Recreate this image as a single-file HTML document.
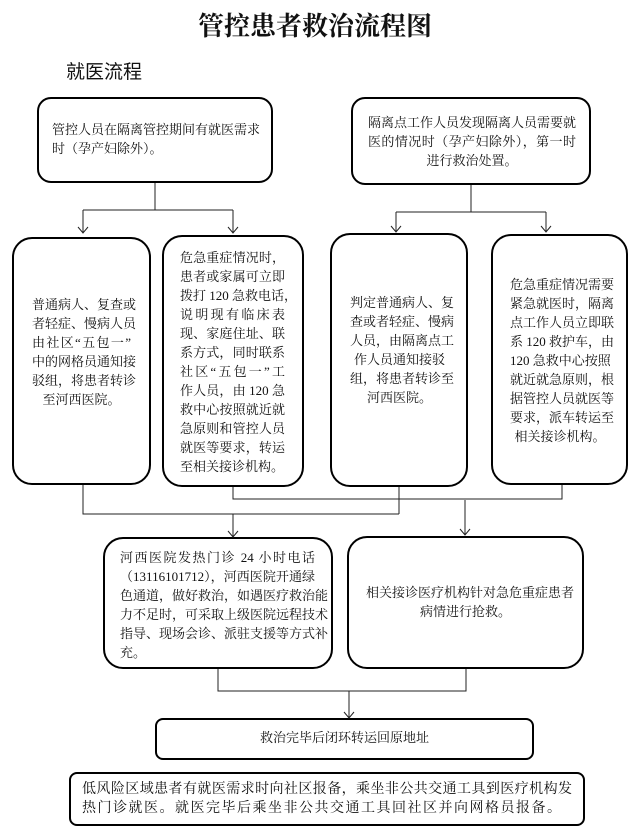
<!DOCTYPE html>
<html><head><meta charset="utf-8">
<style>
body{margin:0;background:#fff;}
#c{position:relative;width:644px;height:830px;overflow:hidden;font-family:"Liberation Serif","Noto Serif CJK SC",serif;color:#111;}
.b{position:absolute;border:2px solid #000;border-radius:14px;box-sizing:border-box;}
.t{position:absolute;font-size:13px;line-height:19px;}
.t div{text-align:justify;text-align-last:justify;height:19px;white-space:nowrap;}
.t div.e{text-align:left;text-align-last:left;}
.t div.m{text-align:center;text-align-last:center;}
svg{position:absolute;left:0;top:0;}
</style></head><body><div id="c">
<div style="position:absolute;left:198px;top:6px;width:240px;font-size:26px;font-weight:bold;letter-spacing:0px;white-space:nowrap;">管控患者救治流程图</div>
<div style="position:absolute;left:66px;top:57px;font-size:19px;white-space:nowrap;font-family:'Liberation Sans','Noto Sans CJK SC',sans-serif;">就医流程</div>

<div class="b" style="left:37px;top:97px;width:236px;height:86px;"></div>
<div class="b" style="left:351px;top:97px;width:240px;height:88px;"></div>
<div class="b" style="left:12px;top:237px;width:139px;height:248px;border-radius:20px;"></div>
<div class="b" style="left:162px;top:235px;width:142px;height:252px;border-radius:20px;"></div>
<div class="b" style="left:330px;top:233px;width:138px;height:254px;border-radius:20px;"></div>
<div class="b" style="left:491px;top:234px;width:137px;height:251px;border-radius:20px;"></div>
<div class="b" style="left:103px;top:537px;width:230px;height:132px;border-radius:20px;"></div>
<div class="b" style="left:347px;top:536px;width:237px;height:133px;border-radius:20px;"></div>
<div class="b" style="left:155px;top:718px;width:379px;height:42px;border-radius:8px;"></div>
<div class="b" style="left:69px;top:772px;width:516px;height:54px;border-radius:8px;"></div>

<svg width="644" height="830" fill="none" stroke="#222" stroke-width="1">
<path d="M155 183V210M83 210H233M83 210V233M233 210V233"/>
<path d="M78 227L83 233L88 227M228 227L233 233L238 227"/>
<path d="M471 185V212M396 212H546M396 212V232M546 212V232"/>
<path d="M391 226L396 232L401 226M541 226L546 232L551 226"/>
<path d="M83 485V514H399M399 487V514M233 487V499H562V485M233 514V537M465 500V535"/>
<path d="M228 531L233 537L238 531M460 529L465 535L470 529"/>
<path d="M218 669V691H466V669M349 691V718"/>
<path d="M344 712L349 718L354 712"/>
</svg>

<div class="t" style="left:52px;top:120px;width:208px;"><div>管控人员在隔离管控期间有就医需求</div><div class="e">时（孕产妇除外）。</div></div>
<div class="t" style="left:368px;top:113px;width:208px;"><div>隔离点工作人员发现隔离人员需要就</div><div>医的情况时（孕产妇除外），第一时</div><div class="m">进行救治处置。</div></div>

<div class="t" style="left:32px;top:295px;width:99px;"><div>普通病人、复查或</div><div>者轻症、慢病人员</div><div>由社区“五包一”</div><div>中的网格员通知接</div><div>驳组，将患者转诊</div><div class="m">至河西医院。</div></div>
<div class="t" style="left:180px;top:248px;width:105px;"><div>危急重症情况时，</div><div>患者或家属可立即</div><div>拨打 120 急救电话，</div><div>说明现有临床表</div><div>现、家庭住址、联</div><div>系方式，同时联系</div><div>社区“五包一”工</div><div>作人员，由 120 急</div><div>救中心按照就近就</div><div>急原则和管控人员</div><div>就医等要求，转运</div><div class="e">至相关接诊机构。</div></div>
<div class="t" style="left:350px;top:293px;width:99px;"><div>判定普通病人、复</div><div>查或者轻症、慢病</div><div>人员，由隔离点工</div><div class="m">作人员通知接驳</div><div>组，将患者转诊至</div><div class="m">河西医院。</div></div>
<div class="t" style="left:510px;top:275px;width:100px;"><div>危急重症情况需要</div><div>紧急就医时，隔离</div><div>点工作人员立即联</div><div>系 120 救护车，由</div><div>120 急救中心按照</div><div>就近就急原则，根</div><div>据管控人员就医等</div><div>要求，派车转运至</div><div class="m">相关接诊机构。</div></div>

<div class="t" style="left:120px;top:548px;width:195px;"><div>河西医院发热门诊 24 小时电话</div><div>（13116101712），河西医院开通绿</div><div>色通道，做好救治，如遇医疗救治能</div><div>力不足时，可采取上级医院远程技术</div><div>指导、现场会诊、派驻支援等方式补</div><div class="e">充。</div></div>
<div class="t" style="left:366px;top:583px;width:199px;"><div>相关接诊医疗机构针对急危重症患者</div><div class="m">病情进行抢救。</div></div>
<div class="t" style="left:155px;top:728px;width:379px;"><div class="m">救治完毕后闭环转运回原地址</div></div>
<div class="t" style="left:82px;top:780px;width:490px;font-size:14px;"><div>低风险区域患者有就医需求时向社区报备，乘坐非公共交通工具到医疗机构发</div><div class="e" style="letter-spacing:1.5px;">热门诊就医。就医完毕后乘坐非公共交通工具回社区并向网格员报备。</div></div>
</div></body></html>
